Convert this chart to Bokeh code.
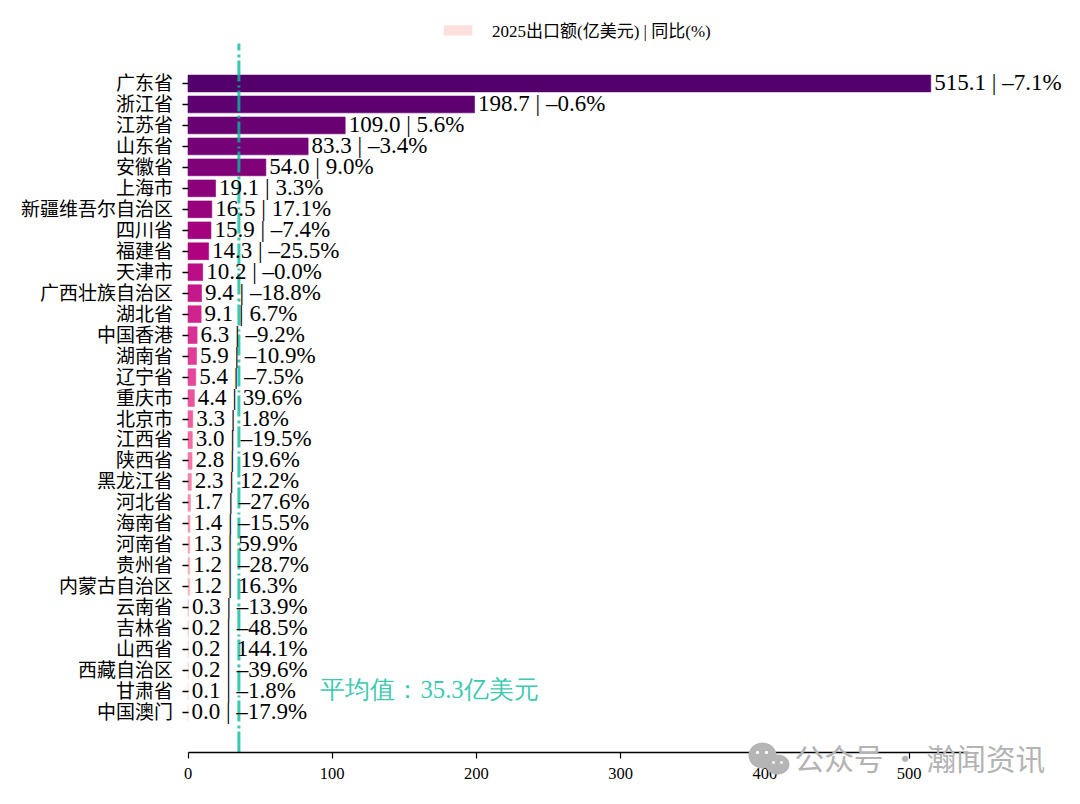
import math

from bokeh.embed import file_html
from bokeh.models import ColumnDataSource, FixedTicker, Label, Legend, LegendItem, PolyAnnotation, Range1d
from bokeh.palettes import RdPu9
from bokeh.plotting import figure
from bokeh.resources import INLINE

provinces = [
    "广东省", "浙江省", "江苏省", "山东省", "安徽省", "上海市", "新疆维吾尔自治区", "四川省",
    "福建省", "天津市", "广西壮族自治区", "湖北省", "中国香港", "湖南省", "辽宁省", "重庆市",
    "北京市", "江西省", "陕西省", "黑龙江省", "河北省", "海南省", "河南省", "贵州省",
    "内蒙古自治区", "云南省", "吉林省", "山西省", "西藏自治区", "甘肃省", "中国澳门",
]
export_value = [
    515.1, 198.7, 109.0, 83.3, 54.0, 19.1, 16.5, 15.9,
    14.3, 10.2, 9.4, 9.1, 6.3, 5.9, 5.4, 4.4,
    3.3, 3.0, 2.8, 2.3, 1.7, 1.4, 1.3, 1.2,
    1.2, 0.3, 0.2, 0.2, 0.2, 0.1, 0.0,
]
yoy_pct = [
    -7.1, -0.6, 5.6, -3.4, 9.0, 3.3, 17.1, -7.4,
    -25.5, -0.0, -18.8, 6.7, -9.2, -10.9, -7.5, 39.6,
    1.8, -19.5, 19.6, 12.2, -27.6, -15.5, 59.9, -28.7,
    16.3, -13.9, -48.5, 144.1, -39.6, -1.8, -17.9,
]
x_ticks = [0, 100, 200, 300, 400, 500]
mean_value = 35.3
legend_text = "2025出口额(亿美元) | 同比(%)"
mean_text = "平均值：35.3亿美元"
watermark_text = "公众号 · 瀚闻资讯"

SERIF = "'Liberation Serif', 'Noto Sans CJK SC'"
TEAL = "#06bb9a"
WIDTH, HEIGHT = 1064, 788

# the frame fills the whole canvas so labels past the axes are not clipped,
# axes are pinned inside it with fixed_location
X_LEFT_PX, X_SCALE = 187.5, 1.442
Y_TOP_PX, Y_SCALE = 83.0, 20.97
X_END = 541
Y_TOP, Y_BOTTOM = -1.907, 31.907


def ramp_colors(n, start=0.2, stop=7.0):
    # walk along RdPu9 (dark to light), skipping both very ends
    rgb = [tuple(int(c[i:i + 2], 16) for i in (1, 3, 5)) for c in RdPu9]
    out = []
    for k in range(n):
        t = start + k / (n - 1) * (stop - start)
        i = min(int(t), len(rgb) - 2)
        f = t - i
        out.append("#%02x%02x%02x" % tuple(round(a + (b - a) * f) for a, b in zip(rgb[i], rgb[i + 1])))
    return out


def fmt_label(value, pct):
    sign = "–" if str(pct).startswith("-") else ""
    return f"{value:.1f} | {sign}{abs(pct):.1f}%"


def blob(cx, cy, rx, ry, color):
    # round watermark icon parts, in canvas pixels
    xs = [cx + rx * math.cos(a / 24 * 2 * math.pi) for a in range(24)]
    ys = [cy + ry * math.sin(a / 24 * 2 * math.pi) for a in range(24)]
    return PolyAnnotation(xs=xs, ys=ys, xs_units="canvas", ys_units="canvas",
                          fill_color=color, fill_alpha=1, line_color=None, level="overlay")


positions = list(range(len(provinces)))
source = ColumnDataSource(dict(
    y=positions,
    value=export_value,
    color=ramp_colors(len(provinces)),
    label=[fmt_label(v, g) for v, g in zip(export_value, yoy_pct)],
))

p = figure(
    width=WIDTH, height=HEIGHT,
    x_range=Range1d(-X_LEFT_PX / X_SCALE, (WIDTH - X_LEFT_PX) / X_SCALE),
    y_range=Range1d((HEIGHT - Y_TOP_PX) / Y_SCALE, -Y_TOP_PX / Y_SCALE),
    output_backend="svg",
    toolbar_location=None,
    min_border=0,
)
p.outline_line_color = None
p.grid.visible = False

bars = p.hbar(y="y", right="value", left=0, height=0.8, source=source,
              fill_color="color", line_color="color", line_alpha=0.6)
# two dot lengths so the pattern repeats every 30.5px on average
p.line([mean_value, mean_value], [Y_BOTTOM, Y_TOP],
       line_color=TEAL, line_width=3, line_alpha=0.8, line_dash=[21, 3, 3, 4, 21, 3, 2, 4])
p.text(x="value", y="y", text="label", source=source, x_offset=3.5, y_offset=-1,
       text_baseline="middle", text_font=SERIF, text_font_size="23px", text_color="#000000")
p.text(x=[91.8], y=[28.9], text=[mean_text], text_baseline="middle", text_alpha=0.8,
       text_font=SERIF, text_font_size="24.8px", text_color=TEAL)

p.xaxis.fixed_location = Y_BOTTOM
p.xaxis.bounds = (0, X_END)
p.xaxis.ticker = FixedTicker(ticks=x_ticks)
p.xaxis.minor_tick_line_color = None
p.xaxis.major_tick_in = 0
p.xaxis.major_tick_out = 6
p.xaxis.axis_line_color = "#000000"
p.xaxis.axis_line_width = 1.5
p.xaxis.major_tick_line_width = 1.2
p.xaxis.major_label_text_font = SERIF
p.xaxis.major_label_text_font_size = "16.5px"
p.xaxis.major_label_text_color = "#000000"
p.xaxis.major_label_standoff = 9

p.yaxis.fixed_location = 0
p.yaxis.ticker = FixedTicker(ticks=positions)
p.yaxis.major_label_overrides = dict(zip(positions, provinces))
p.yaxis.axis_line_color = None
p.yaxis.minor_tick_line_color = None
p.yaxis.major_tick_in = 0
p.yaxis.major_tick_out = 6
p.yaxis.major_tick_line_width = 1.5
p.yaxis.major_label_text_font = SERIF
p.yaxis.major_label_text_font_size = "19px"
p.yaxis.major_label_text_color = "#000000"
p.yaxis.major_label_standoff = 9

legend = Legend(
    items=[LegendItem(label=legend_text, renderers=[bars], index=30)],
    location=(440, 746), orientation="horizontal",
    border_line_color=None, background_fill_color=None,
    glyph_width=35, glyph_height=12, label_standoff=17,
    label_text_font=SERIF, label_text_font_size="17px", label_text_color="#000000",
    margin=0, padding=4,
)
p.add_layout(legend, "center")

for part in [
    blob(762, 755, 14, 13, "#b5b5b5"), blob(777, 764, 12, 10, "#b5b5b5"),
    blob(757, 752, 1.6, 1.6, "#ffffff"), blob(766, 752, 1.6, 1.6, "#ffffff"),
    blob(773, 762, 1.5, 1.5, "#ffffff"), blob(781, 762, 1.5, 1.5, "#ffffff"),
]:
    p.add_layout(part)
p.add_layout(Label(x=794, y=31, x_units="screen", y_units="screen", text=watermark_text,
                   text_font="'Noto Sans CJK SC'", text_font_size="29.7px", text_color="#b3b3b3",
                   text_baseline="middle"))

open("out.html", "w").write(file_html(p, INLINE))
